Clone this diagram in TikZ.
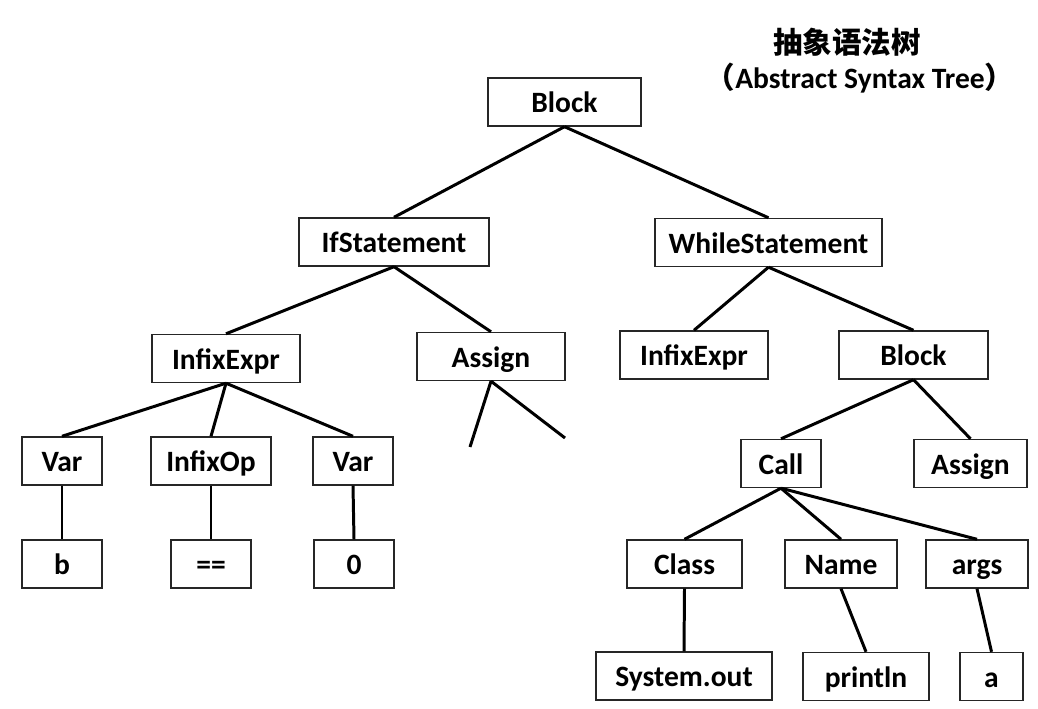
\documentclass[tikz,border=0pt]{standalone}
\usepackage{fontspec}
\setmainfont{Carlito}
\newfontfamily\cjk{Noto Sans CJK SC}
\begin{document}
\begin{tikzpicture}[
    box/.style={draw=black!85, line width=0.8pt, minimum height=0.96cm, inner sep=0pt,
      text height=0.5cm, text depth=0.06cm,
      font=\bfseries\fontsize{16.8}{20}\selectfont},
    edge/.style={line width=1.7pt}]
  \useasboundingbox (0,0) rectangle (20.76,14.18);

  % title
  \node (title) at (16.94,13.34) {\cjk\bfseries\fontsize{16.8}{20}\selectfont 抽象语法树};
  \node (subtitle) at (17.2,12.62) {\bfseries\fontsize{16.8}{20}\selectfont{\cjk （}Abstract Syntax Tree{\cjk ）}};

  % tree
  \node[box, minimum width=3.06cm] (block) at (11.29,12.14) {Block};
  \node[box, minimum width=3.8cm] (ifst) at (7.88,9.34) {IfStatement};
  \node[box, minimum width=4.54cm] (whilest) at (15.37,9.33) {WhileStatement};

  \node[box, minimum width=2.96cm] (ifexpr) at (4.52,7.01) {InfixExpr};
  \node[box, minimum width=2.96cm] (ifassign) at (9.82,7.05) {Assign};
  \node[box, minimum width=2.96cm] (whexpr) at (13.88,7.08) {InfixExpr};
  \node[box, minimum width=2.98cm] (whblock) at (18.27,7.08) {Block};

  \node[box, minimum width=1.6cm] (varb) at (1.24,4.96) {Var};
  \node[box, minimum width=2.4cm] (infixop) at (4.22,4.96) {InfixOp};
  \node[box, minimum width=1.6cm] (varz) at (7.06,4.96) {Var};
  \node[box, minimum width=1.6cm] (b) at (1.24,2.9) {b};
  \node[box, minimum width=1.6cm] (eq) at (4.22,2.9) {==};
  \node[box, minimum width=1.6cm] (zero) at (7.08,2.9) {0};

  \node[box, minimum width=1.6cm] (call) at (15.62,4.91) {Call};
  \node[box, minimum width=2.26cm] (whassign) at (19.41,4.91) {Assign};
  \node[box, minimum width=2.3cm] (class) at (13.69,2.9) {Class};
  \node[box, minimum width=2.24cm] (name) at (16.82,2.9) {Name};
  \node[box, minimum width=2.04cm] (args) at (19.54,2.9) {args};
  \node[box, minimum width=3.52cm] (sysout) at (13.68,0.66) {System.out};
  \node[box, minimum width=2.52cm] (println) at (17.32,0.65) {println};
  \node[box, minimum width=1.26cm] (a) at (19.83,0.65) {a};

  \coordinate (cut1) at (9.40,5.24);
  \coordinate (cut2) at (11.30,5.42);

  \draw[edge] (block.south) -- (ifst.north);
  \draw[edge] (block.south) -- (whilest.north);
  \draw[edge] (ifst.south) -- (ifexpr.north);
  \draw[edge] (ifst.south) -- (ifassign.north);
  \draw[edge] (whilest.south) -- (whexpr.north);
  \draw[edge] (whilest.south) -- (whblock.north);

  \draw[edge] (ifexpr.south) -- (varb.north);
  \draw[edge] (ifexpr.south) -- (infixop.north);
  \draw[edge] (ifexpr.south) -- (varz.north);
  \draw[edge] (varb.south) -- (b.north);
  \draw[edge] (infixop.south) -- (eq.north);
  \draw[edge] (varz.south) -- (zero.north);
  \draw[edge] (ifassign.south) -- (cut1);
  \draw[edge] (ifassign.south) -- (cut2);

  \draw[edge] (whblock.south) -- (call.north);
  \draw[edge] (whblock.south) -- (whassign.north);
  \draw[edge] (call.south) -- (class.north);
  \draw[edge] (call.south) -- (name.north);
  \draw[edge] (call.south) -- (args.north);
  \draw[edge] (class.south) -- (sysout.north);
  \draw[edge] (name.south) -- (println.north);
  \draw[edge] (args.south) -- (a.north);
\end{tikzpicture}
\end{document}
